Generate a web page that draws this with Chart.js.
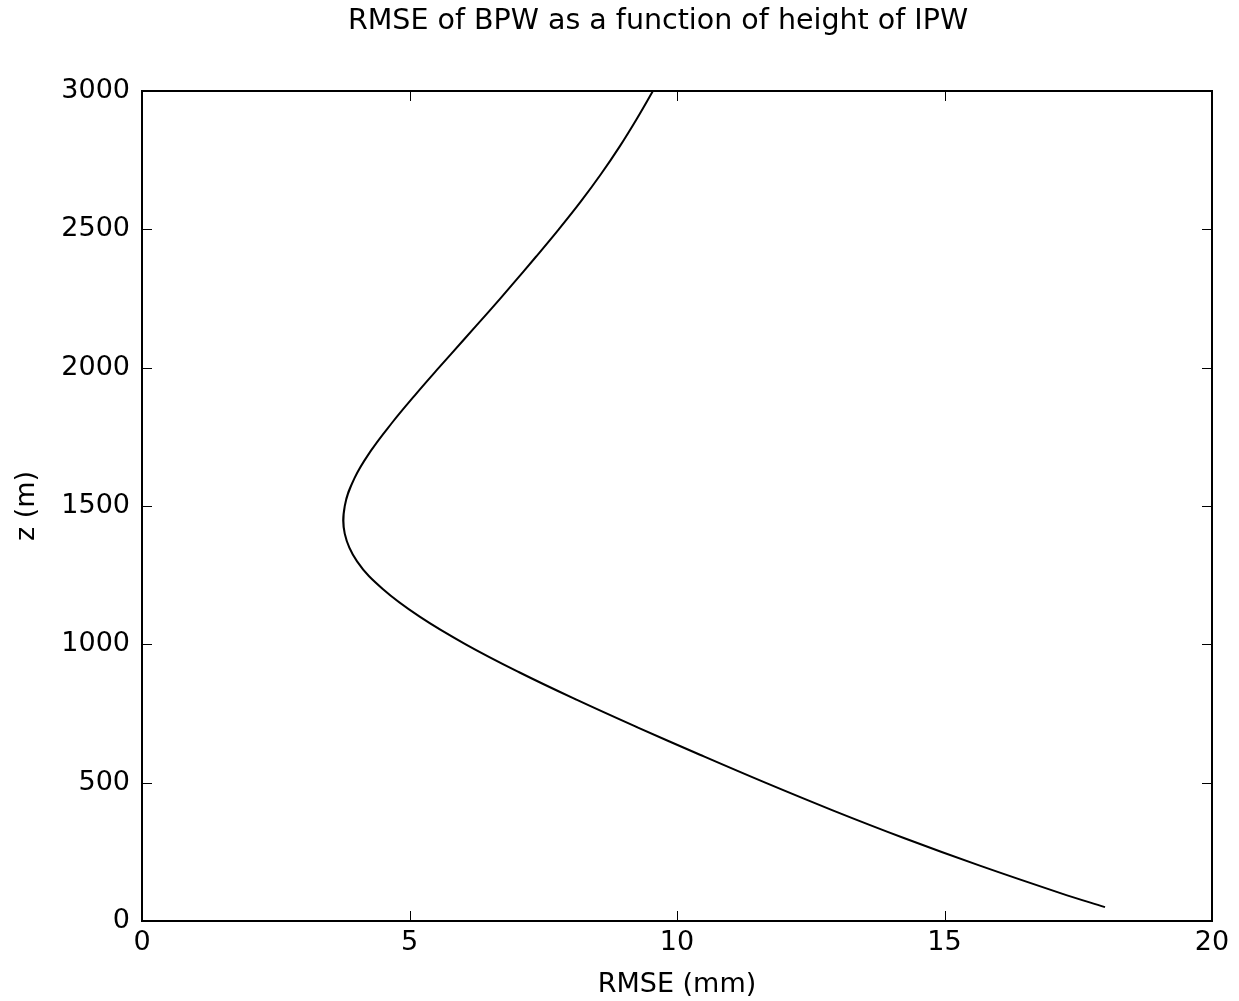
<!DOCTYPE html>
<html>
<head>
<meta charset="utf-8">
<script src="https://cdn.jsdelivr.net/npm/chart.js@4/dist/chart.umd.min.js"></script>
<style>
  html, body { margin: 0; padding: 0; background: #fff; }
  #wrap { width: 1239px; height: 1001px; }
</style>
</head>
<body>
<div id="wrap"><canvas id="rmseChart" width="1239" height="1001"></canvas></div>
<script>
// values (height z in m, RMSE in mm)
const heights = [50, 100, 200, 300, 400, 500, 600, 700, 800, 900, 1000, 1100, 1200, 1300, 1400, 1500,
                 1600, 1700, 1800, 1900, 2000, 2100, 2200, 2300, 2400, 2500, 2600, 2700, 2800, 2900, 3000];
const rmse = [18.0, 17.18, 15.66, 14.24, 12.91, 11.65, 10.44, 9.26, 8.12, 7.04, 6.05, 5.19, 4.50, 4.02, 3.79, 3.79,
              3.97, 4.28, 4.67, 5.10, 5.55, 6.01, 6.47, 6.92, 7.36, 7.79, 8.20, 8.58, 8.93, 9.25, 9.55];
const xTicks = [0, 5, 10, 15, 20];
const yTicks = [0, 500, 1000, 1500, 2000, 2500, 3000];
const chartTitle = 'RMSE of BPW as a function of height of IPW';

const FONT = "'DejaVu Sans', sans-serif";

// matplotlib-style box with inward ticks + title
const boxPlugin = {
    id: 'box',
    afterDraw(chart) {
        const { ctx, chartArea: a, scales } = chart;
        ctx.save();
        ctx.strokeStyle = '#000';
        ctx.lineWidth = 1;
        const len = 10;
        xTicks.forEach(v => {
            const px = Math.round(scales.x.getPixelForValue(v)) + 0.5;
            ctx.beginPath();
            ctx.moveTo(px, a.bottom); ctx.lineTo(px, a.bottom - len);
            ctx.moveTo(px, a.top); ctx.lineTo(px, a.top + len);
            ctx.stroke();
        });
        yTicks.forEach(v => {
            const py = Math.round(scales.y.getPixelForValue(v)) + 0.5;
            ctx.beginPath();
            ctx.moveTo(a.left, py); ctx.lineTo(a.left + len, py);
            ctx.moveTo(a.right, py); ctx.lineTo(a.right - len, py);
            ctx.stroke();
        });
        ctx.lineWidth = 2;
        ctx.strokeRect(a.left, a.top, a.right - a.left, a.bottom - a.top);

        ctx.fillStyle = '#000';
        ctx.font = '28.5px ' + FONT;
        ctx.textAlign = 'center';
        ctx.textBaseline = 'middle';
        ctx.fillText(chartTitle, 658, 22);
        ctx.restore();
    }
};

new Chart(document.getElementById('rmseChart').getContext('2d'), {
    type: 'scatter',
    data: {
        datasets: [{
            data: heights.map((h, i) => ({ x: rmse[i], y: h })),
            showLine: true,
            borderColor: '#000',
            borderWidth: 2,
            pointRadius: 0,
            tension: 0.4,
            fill: false
        }]
    },
    options: {
        responsive: false,
        animation: false,
        layout: { padding: { left: 0, right: 27, top: 91, bottom: 0 } },
        plugins: {
            legend: { display: false },
            tooltip: { enabled: false }
        },
        scales: {
            x: {
                type: 'linear',
                min: 0, max: 20,
                afterFit(s) { s.height = 80; },
                afterBuildTicks(s) { s.ticks = xTicks.map(v => ({ value: v })); },
                grid: { display: false, drawTicks: false },
                border: { display: false },
                ticks: { color: '#000', font: { family: FONT, size: 27 }, padding: 6, callback: v => String(v) },
                title: { display: true, text: 'RMSE (mm)', color: '#000', font: { family: FONT, size: 27 }, padding: { top: 0, bottom: 0 } }
            },
            y: {
                type: 'linear',
                min: 0, max: 3000,
                afterFit(s) { s.width = 142; },
                afterBuildTicks(s) { s.ticks = yTicks.map(v => ({ value: v })); },
                grid: { display: false, drawTicks: false },
                border: { display: false },
                ticks: { color: '#000', font: { family: FONT, size: 27 }, padding: 12, callback: v => String(v) },
                title: { display: true, text: 'z (m)', color: '#000', font: { family: FONT, size: 27 }, padding: { top: 11, bottom: 0 } }
            }
        }
    },
    plugins: [boxPlugin]
});
</script>
</body>
</html>
